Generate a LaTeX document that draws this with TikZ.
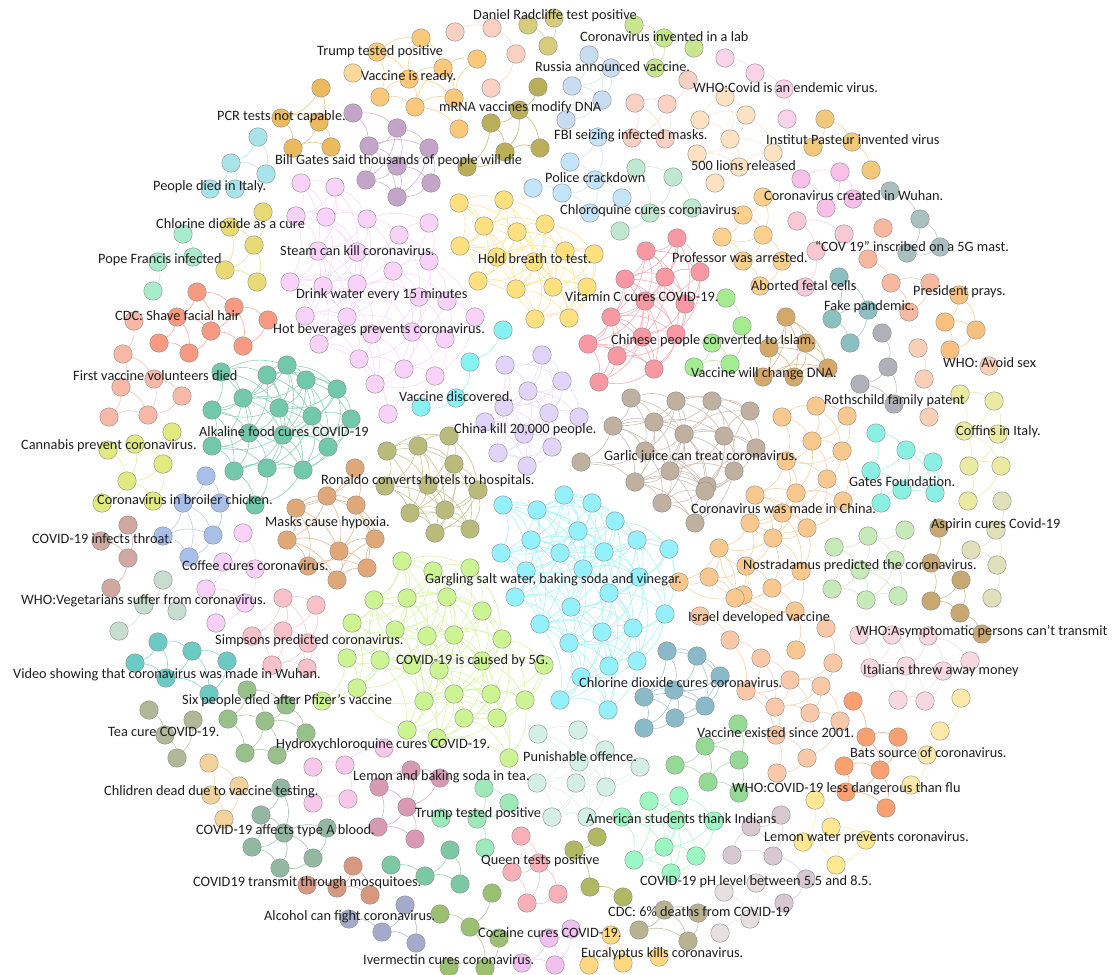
\documentclass[tikz,border=0pt]{standalone}
\usepackage{fontspec}
\setmainfont{Carlito}
\pgfdeclarelayer{edgelayer}
\pgfsetlayers{edgelayer,main}
\tikzset{
  dot/.style={circle,minimum size=18.5pt,inner sep=0pt,draw=black!45,line width=0.4pt},
  lbl/.style={anchor=west,inner sep=0pt,font=\fontsize{14.3}{16}\selectfont,text=black!88},
  lnk/.style={line width=0.6pt}
}
\newcommand\mkcluster[4]{%
  \foreach \p [count=\i] in {#4}{\node[dot,fill=#2] (#1-\i) at \p {}; \xdef\clcount{\i}}%
  \begin{pgfonlayer}{edgelayer}
  \foreach \i in {1,...,\clcount}{\foreach \j in {\i,...,\clcount}{%
    \ifnum\j>\i\relax
      \pgfpointdiff{\pgfpointanchor{#1-\i}{center}}{\pgfpointanchor{#1-\j}{center}}%
      \pgfgetlastxy\cdx\cdy
      \pgfmathtruncatemacro\isclose{veclen(\cdx,\cdy)<#3}%
      \ifnum\isclose=1\relax \draw[lnk,draw=#2!80!white] (#1-\i) to[bend left=20] (#1-\j);\fi
    \fi}}
  \end{pgfonlayer}}
\definecolor{pcr}{HTML}{EBB95E}
\definecolor{italy}{HTML}{A8E4EA}
\definecolor{purp}{HTML}{C4A4C8}
\definecolor{pinkL}{HTML}{F9D2FA}
\definecolor{yelC}{HTML}{E8DA74}
\definecolor{mintP}{HTML}{A8ECCC}
\definecolor{vready}{HTML}{F9C878}
\definecolor{vpale}{HTML}{FCD898}
\definecolor{peachTop}{HTML}{FAD0C2}
\definecolor{oliveTop}{HTML}{D6CC7A}
\definecolor{lgreenTop}{HTML}{C8E690}
\definecolor{lblue}{HTML}{C8DCF2}
\definecolor{salmonTop}{HTML}{FAD0C4}
\definecolor{pinkTop}{HTML}{FAD2EA}
\definecolor{lions}{HTML}{FCE2C2}
\definecolor{pasteur}{HTML}{F2C87A}
\definecolor{profGold}{HTML}{FBD08C}
\definecolor{wuhanPink}{HTML}{F8C0E8}
\definecolor{mast}{HTML}{A8C0C0}
\definecolor{pinkLD}{HTML}{F8C8D4}
\definecolor{prays}{HTML}{F8B8A0}
\definecolor{fake}{HTML}{8CC0C0}
\definecolor{avoid}{HTML}{F8C07E}
\definecolor{peachR}{HTML}{F8D0B8}
\definecolor{roth}{HTML}{B0B0BA}
\definecolor{dnaC}{HTML}{D4A868}
\definecolor{lgreen}{HTML}{A4EC90}
\definecolor{redC}{HTML}{F898A2}
\definecolor{hold}{HTML}{FFE07E}
\definecolor{sky}{HTML}{C4E4FA}
\definecolor{chloro}{HTML}{C0E8D0}
\definecolor{mrna}{HTML}{BAAE58}
\definecolor{cdc}{HTML}{F89A82}
\definecolor{firstv}{HTML}{F8B8A8}
\definecolor{alk}{HTML}{72C8AA}
\definecolor{cann}{HTML}{E0EA80}
\definecolor{broiler}{HTML}{A8C0E8}
\definecolor{throat}{HTML}{D0A8A0}
\definecolor{coffee}{HTML}{F8D0F8}
\definecolor{veg}{HTML}{C8DCD0}
\definecolor{masks}{HTML}{E0A878}
\definecolor{simp}{HTML}{F8C0C8}
\definecolor{video}{HTML}{6CCAC4}
\definecolor{six}{HTML}{98C08A}
\definecolor{tea}{HTML}{B0B898}
\definecolor{child}{HTML}{F2D29A}
\definecolor{typeA}{HTML}{92B8A2}
\definecolor{hydro}{HTML}{F8C8EA}
\definecolor{lemonbs}{HTML}{D89AB2}
\definecolor{mosq}{HTML}{D89880}
\definecolor{alcohol}{HTML}{A4AACA}
\definecolor{tealG}{HTML}{7CC8A2}
\definecolor{cocaine}{HTML}{9CC072}
\definecolor{pinkV}{HTML}{F0C0F0}
\definecolor{euca}{HTML}{FFD880}
\definecolor{cdcsix}{HTML}{B8B290}
\definecolor{oyg}{HTML}{B0B862}
\definecolor{queen}{HTML}{F8B0B8}
\definecolor{trumpB}{HTML}{9CEABA}
\definecolor{punish}{HTML}{D4F0E6}
\definecolor{amer}{HTML}{9CF8C2}
\definecolor{greenC}{HTML}{94DA94}
\definecolor{lilac}{HTML}{D8C8D0}
\definecolor{lgray}{HTML}{E8E0E0}
\definecolor{lemonW}{HTML}{FFE890}
\definecolor{bats}{HTML}{F8A070}
\definecolor{ypale}{HTML}{FCE8A8}
\definecolor{peachB}{HTML}{F8C8A8}
\definecolor{chinaO}{HTML}{F8C88E}
\definecolor{taupe}{HTML}{C0B0A0}
\definecolor{cyanC}{HTML}{94F0FA}
\definecolor{vdisc}{HTML}{86F2F2}
\definecolor{lav}{HTML}{E2D4F8}
\definecolor{ronaldo}{HTML}{BABA7A}
\definecolor{fiveg}{HTML}{CCF492}
\definecolor{steel}{HTML}{8ABACA}
\definecolor{gates}{HTML}{8AF0E2}
\definecolor{coffins}{HTML}{EAEAA2}
\definecolor{aspirin}{HTML}{E0E0BA}
\definecolor{nostra}{HTML}{C8EAB8}
\definecolor{tanC}{HTML}{C8A870}
\definecolor{ital}{HTML}{F8D8E0}
\begin{document}
\begin{tikzpicture}[x=1pt,y=-1pt]
\begin{pgfonlayer}{edgelayer}
\fill[white] (0,0) rectangle (1115,974);
\end{pgfonlayer}
\useasboundingbox (0,0) rectangle (1115,974);
% ---------- clusters ----------
\mkcluster{pcr}{pcr}{55}{(321,88),(281,118),(319,122),(293,148),(331,147)}
\mkcluster{italy}{italy}{50}{(258,137),(231,163),(266,174),(210,189),(235,189)}
\mkcluster{purp}{purp}{62}{(353,113),(397,128),(369,146),(429,148),(397,166),(366,180),(431,183),(397,197)}
\mkcluster{pinkL}{pinkL}{74}{(301,183),(335,187),(296,216),(326,217),(367,219),(399,235),(429,223),(318,251),(357,252),(393,271),(429,261),(290,282),(323,286),(357,284),(419,297),(447,301),(305,316),(347,317),(475,317),(319,344),(372,334),(412,332),(445,339),(359,359),(404,369),(435,376),(375,384),(388,414)}
\mkcluster{yelC}{yelC}{50}{(263,212),(230,227),(254,245),(225,270),(257,282)}
\mkcluster{mintP}{mintP}{45}{(183,234),(158,262),(193,257),(153,291)}
\mkcluster{vready}{vready}{52}{(377,52),(380,97),(409,79),(415,107),(421,38),(443,68),(454,98),(459,129),(477,59)}
\mkcluster{vpale}{vpale}{40}{(353,73)}
\mkcluster{peachTop}{peachTop}{55}{(455,32),(492,28),(516,54),(491,88)}
\mkcluster{oliveTop}{oliveTop}{50}{(528,25),(554,18),(548,46)}
\mkcluster{lgreenTop}{lgreenTop}{50}{(634,25),(664,38),(694,48),(655,68)}
\mkcluster{lblue}{lblue}{50}{(589,55),(611,68),(572,86),(602,100),(566,120)}
\mkcluster{salmonTop}{salmonTop}{55}{(688,80),(635,103),(667,104),(632,138),(665,139)}
\mkcluster{pinkTop}{pinkTop}{50}{(725,58),(755,73),(784,89),(787,119)}
\mkcluster{lions}{lions}{48}{(700,120),(725,97),(746,115),(730,139),(697,154),(739,167),(773,153),(715,183)}
\mkcluster{pasteur}{pasteur}{50}{(825,119),(813,147),(852,142),(871,170)}
\mkcluster{profGold}{profGold}{45}{(763,197),(743,215),(763,235),(722,237),(743,261),(782,261),(760,286)}
\mkcluster{wuhanPink}{wuhanPink}{45}{(801,179),(840,172),(826,208),(853,199)}
\mkcluster{mast}{mast}{45}{(890,191),(920,219),(940,247),(907,253)}
\mkcluster{pinkLD}{pinkLD}{50}{(797,221),(844,234),(816,251),(805,287)}
\mkcluster{prays}{prays}{45}{(883,228),(868,259),(891,283),(930,283),(909,312)}
\mkcluster{fake}{fake}{50}{(839,277),(832,319),(868,310),(850,343)}
\mkcluster{avoid}{avoid}{45}{(959,295),(945,322),(976,330),(950,350)}
\mkcluster{peachR}{peachR}{45}{(918,348),(924,379),(989,366),(929,417)}
\mkcluster{roth}{roth}{45}{(882,333),(888,367),(860,384),(894,404)}
\mkcluster{dnaC}{dnaC}{70}{(786,317),(769,348),(806,343),(763,377),(794,377),(828,368)}
\mkcluster{lgreen}{lgreen}{45}{(726,298),(742,326),(712,343),(694,367),(730,364)}
\mkcluster{redC}{redC}{75}{(677,238),(646,251),(625,279),(665,277),(700,272),(645,301),(685,304),(611,317),(642,337),(676,334),(588,344),(617,356),(654,369),(599,382)}
\mkcluster{hold}{hold}{72}{(459,203),(504,200),(484,226),(517,232),(545,224),(460,246),(497,257),(534,262),(565,251),(594,254),(478,281),(516,289),(553,287),(587,287),(535,319),(569,318)}
\mkcluster{sky}{sky}{45}{(598,137),(570,162),(595,180),(533,188),(562,193),(622,198),(590,213)}
\mkcluster{chloro}{chloro}{50}{(636,168),(673,177),(692,208),(650,213),(620,231)}
\mkcluster{mrna}{mrna}{55}{(538,87),(519,110),(491,123),(505,152),(540,148),(467,167)}
\mkcluster{cdc}{cdc}{50}{(197,292),(234,307),(268,320),(177,317),(211,331),(159,343),(189,353),(243,346)}
\mkcluster{firstv}{firstv}{48}{(134,321),(123,354),(121,387),(154,379),(182,396),(109,417),(148,415)}
\mkcluster{alk}{alk}{72}{(221,372),(267,375),(287,365),(306,380),(337,389),(243,398),(279,408),(312,416),(351,419),(212,410),(249,433),(283,435),(328,447),(212,446),(234,471),(267,468),(303,470),(255,505)}
\mkcluster{cann}{cann}{45}{(172,432),(135,444),(108,450),(163,464),(127,481),(102,503),(153,501)}
\mkcluster{broiler}{broiler}{55}{(206,476),(183,503),(220,503),(163,536),(213,535),(189,557)}
\mkcluster{throat}{throat}{40}{(128,525),(101,541),(128,558),(111,588)}
\mkcluster{coffee}{coffee}{45}{(243,533),(223,562),(255,569),(206,589),(245,603),(216,623)}
\mkcluster{veg}{veg}{55}{(163,580),(144,605),(177,611),(119,631)}
\mkcluster{masks}{masks}{72}{(355,468),(296,508),(327,496),(356,505),(287,540),(339,551),(308,566),(337,580),(367,568),(375,539)}
\mkcluster{simp}{simp}{55}{(283,598),(316,605),(252,636),(283,631),(308,643),(272,665),(307,668)}
\mkcluster{video}{video}{55}{(158,642),(192,651),(227,661),(135,663),(166,678),(209,694)}
\mkcluster{six}{six}{50}{(247,690),(286,705),(228,719),(265,721),(306,733),(245,753),(277,755)}
\mkcluster{tea}{tea}{45}{(149,710),(193,720),(165,735),(177,758)}
\mkcluster{child}{child}{45}{(209,763),(239,786),(211,795),(224,819)}
\mkcluster{typeA}{typeA}{55}{(281,788),(261,815),(284,833),(327,828),(252,847),(313,858),(280,868)}
\mkcluster{hydro}{hydro}{45}{(313,767),(345,765),(313,803),(348,799),(384,748)}
\mkcluster{lemonbs}{lemonbs}{45}{(379,787),(411,770),(440,778),(407,807),(378,827),(415,839)}
\mkcluster{mosq}{mosq}{45}{(353,866),(307,885),(337,888),(370,895)}
\mkcluster{alcohol}{alcohol}{50}{(349,919),(405,905),(382,932),(416,943)}
\mkcluster{tealG}{tealG}{45}{(450,850),(391,865),(425,876),(460,884)}
\mkcluster{cocaine}{cocaine}{45}{(492,893),(440,914),(470,927),(499,938),(449,967),(485,968)}
\mkcluster{pinkV}{pinkV}{40}{(571,929),(549,938),(522,963),(555,965)}
\mkcluster{euca}{euca}{45}{(611,935),(589,965),(623,963),(659,957)}
\mkcluster{cdcsix}{cdcsix}{55}{(664,910),(698,913),(639,930),(688,941)}
\mkcluster{oyg}{oyg}{50}{(597,837),(574,850),(590,887),(623,897)}
\mkcluster{queen}{queen}{50}{(521,836),(539,863),(512,872),(558,894),(527,903)}
\mkcluster{trumpB}{trumpB}{45}{(484,788),(509,803),(441,818),(477,819),(485,848)}
\mkcluster{punish}{punish}{68}{(538,734),(578,730),(605,750),(579,762),(640,767),(537,783),(576,783),(606,787),(552,817),(587,817)}
\mkcluster{amer}{amer}{62}{(649,801),(679,796),(676,820),(714,821),(622,817),(664,847),(696,856),(634,860),(671,873)}
\mkcluster{greenC}{greenC}{50}{(738,724),(705,746),(675,765),(708,782),(739,760),(739,793)}
\mkcluster{lilac}{lilac}{45}{(732,855),(781,815),(751,827),(773,856),(806,879),(784,903)}
\mkcluster{lgray}{lgray}{45}{(724,892),(720,933),(756,883),(750,919)}
\mkcluster{lemonW}{lemonW}{55}{(815,800),(831,827),(803,842),(866,840),(836,865)}
\mkcluster{bats}{bats}{50}{(853,701),(866,737),(898,737),(844,766),(880,770),(846,792),(886,808)}
\mkcluster{ypale}{ypale}{40}{(961,698),(940,731),(927,755),(911,785)}
\mkcluster{peachB}{peachB}{55}{(700,616),(730,640),(826,628),(761,658),(833,663),(790,680),(821,686),(746,691),(775,707),(810,713),(840,721),(776,735),(807,758),(777,773)}
\mkcluster{chinaO}{chinaO}{62}{(782,417),(816,406),(847,416),(812,441),(842,451),(786,461),(827,479),(755,495),(796,493),(843,501),(782,513),(807,528),(773,538),(750,523),(746,566),(801,571),(772,588),(795,611),(743,595),(796,650),(719,548),(709,577),(735,598),(679,582)}
\mkcluster{taupe}{taupe}{75}{(631,398),(676,401),(712,401),(613,426),(654,422),(684,434),(724,436),(645,451),(581,462),(670,471),(734,471),(635,482),(707,486),(750,411),(756,448),(662,503),(695,523),(705,491)}
\mkcluster{cyanC}{cyanC}{85}{(564,495),(503,505),(537,510),(592,503),(615,521),(578,531),(531,540),(637,540),(501,553),(560,553),(604,552),(669,549),(526,571),(583,569),(639,577),(515,597),(609,593),(571,607),(540,624),(665,614),(602,632),(633,628),(569,643),(609,666),(637,661),(581,677),(560,700),(608,710)}
\mkcluster{vdisc}{vdisc}{50}{(503,330),(470,362),(456,398),(421,407)}
\mkcluster{lav}{lav}{65}{(542,355),(505,365),(562,381),(528,391),(504,407),(549,413),(579,417),(485,422),(524,434),(552,447),(498,453),(527,466)}
\mkcluster{ronaldo}{ronaldo}{72}{(387,451),(418,446),(449,436),(454,464),(385,486),(428,485),(478,490),(410,513),(445,510),(435,533),(470,529)}
\mkcluster{fiveg}{fiveg}{80}{(402,561),(433,571),(470,568),(407,598),(447,597),(482,611),(395,630),(427,636),(454,635),(502,639),(380,660),(412,665),(439,670),(482,661),(544,665),(424,701),(454,694),(491,694),(525,700),(464,718),(497,718),(407,730),(374,600),(347,658),(352,623),(357,688),(322,701),(437,738),(509,758)}
\mkcluster{steel}{steel}{62}{(667,651),(697,656),(720,676),(644,697),(674,690),(705,706),(675,718),(644,728)}
\mkcluster{gates}{gates}{55}{(876,433),(906,450),(933,462),(871,471),(881,503),(902,490),(935,493)}
\mkcluster{coffins}{coffins}{55}{(960,394),(994,401),(964,431),(998,434),(969,466),(1001,466),(968,501)}
\mkcluster{aspirin}{aspirin}{45}{(1002,501),(996,530),(971,550),(997,565),(992,598)}
\mkcluster{nostra}{nostra}{58}{(905,530),(868,536),(834,547),(895,560),(860,570),(832,589),(866,600),(898,596)}
\mkcluster{tanC}{tanC}{50}{(939,528),(931,563),(961,580),(931,601),(960,613),(982,634)}
\mkcluster{ital}{ital}{55}{(859,635),(892,635),(928,636),(870,668),(906,666),(943,671),(970,661),(898,700),(925,701)}
% ---------- labels ----------
\node[lbl] (t1) at (473,16) {Daniel Radcliffe test positive};
\node[lbl] (t2) at (580,37) {Coronavirus invented in a lab};
\node[lbl] (t3) at (317,52) {Trump tested positive};
\node[lbl] (t4) at (535,67) {Russia announced vaccine.};
\node[lbl] (t5) at (361,77) {Vaccine is ready.};
\node[lbl] (t6) at (693,88) {WHO:Covid is an endemic virus.};
\node[lbl] (t7) at (439,108) {mRNA vaccines modify DNA};
\node[lbl] (t8) at (217,117) {PCR tests not capable.};
\node[lbl] (t9) at (554,136) {FBI seizing infected masks.};
\node[lbl] (t10) at (766,140) {Institut Pasteur invented virus};
\node[lbl] (t11) at (275,161) {Bill Gates said thousands of people will die};
\node[lbl] (t12) at (691,166) {500 lions released};
\node[lbl] (t13) at (545,178) {Police crackdown};
\node[lbl] (t14) at (153,187) {People died in Italy.};
\node[lbl] (t15) at (764,196) {Coronavirus created in Wuhan.};
\node[lbl] (t16) at (560,211) {Chloroquine cures coronavirus.};
\node[lbl] (t17) at (156,224) {Chlorine dioxide as a cure};
\node[lbl] (t18) at (815,246) {“COV 19” inscribed on a 5G mast.};
\node[lbl] (t19) at (280,251) {Steam can kill coronavirus.};
\node[lbl] (t20) at (478,259) {Hold breath to test.};
\node[lbl] (t21) at (672,258) {Professor was arrested.};
\node[lbl] (t22) at (98,260) {Pope Francis infected};
\node[lbl] (t23) at (751,286) {Aborted fetal cells};
\node[lbl] (t24) at (913,292) {President prays.};
\node[lbl] (t25) at (296,295) {Drink water every 15 minutes};
\node[lbl] (t26) at (565,297) {Vitamin C cures COVID-19.};
\node[lbl] (t27) at (824,307) {Fake pandemic.};
\node[lbl] (t28) at (115,316) {CDC: Shave facial hair};
\node[lbl] (t29) at (273,330) {Hot beverages prevents coronavirus.};
\node[lbl] (t30) at (611,341) {Chinese people converted to Islam.};
\node[lbl] (t31) at (943,363) {WHO: Avoid sex};
\node[lbl] (t32) at (691,374) {Vaccine will change DNA.};
\node[lbl] (t33) at (73,376) {First vaccine volunteers died};
\node[lbl] (t34) at (399,397) {Vaccine discovered.};
\node[lbl] (t35) at (824,401) {Rothschild family patent};
\node[lbl] (t36) at (454,430) {China kill 20,000 people.};
\node[lbl] (t37) at (199,432) {Alkaline food cures COVID-19};
\node[lbl] (t38) at (956,432) {Coffins in Italy.};
\node[lbl] (t39) at (21,446) {Cannabis prevent coronavirus.};
\node[lbl] (t40) at (604,457) {Garlic juice can treat coronavirus.};
\node[lbl] (t41) at (321,481) {Ronaldo converts hotels to hospitals.};
\node[lbl] (t42) at (849,482) {Gates Foundation.};
\node[lbl] (t43) at (97,500) {Coronavirus in broiler chicken.};
\node[lbl] (t44) at (691,509) {Coronavirus was made in China.};
\node[lbl] (t45) at (265,523) {Masks cause hypoxia.};
\node[lbl] (t46) at (931,525) {Aspirin cures Covid-19};
\node[lbl] (t47) at (32,539) {COVID-19 infects throat.};
\node[lbl] (t48) at (182,566) {Coffee cures coronavirus.};
\node[lbl] (t49) at (743,566) {Nostradamus predicted the coronavirus.};
\node[lbl] (t50) at (425,580) {Gargling salt water, baking soda and vinegar.};
\node[lbl] (t51) at (21,601) {WHO:Vegetarians suffer from coronavirus.};
\node[lbl] (t52) at (688,618) {Israel developed vaccine};
\node[lbl] (t53) at (856,632) {WHO:Asymptomatic persons can’t transmit};
\node[lbl] (t54) at (215,641) {Simpsons predicted coronavirus.};
\node[lbl] (t55) at (396,661) {COVID-19 is caused by 5G.};
\node[lbl] (t56) at (863,671) {Italians threw away money};
\node[lbl] (t57) at (13,675) {Video showing that coronavirus was made in Wuhan.};
\node[lbl] (t58) at (579,683) {Chlorine dioxide cures coronavirus.};
\node[lbl] (t59) at (182,701) {Six people died after Pfizer’s vaccine};
\node[lbl] (t60) at (697,733) {Vaccine existed since 2001.};
\node[lbl] (t61) at (108,732) {Tea cure COVID-19.};
\node[lbl] (t62) at (276,745) {Hydroxychloroquine cures COVID-19.};
\node[lbl] (t63) at (850,753) {Bats source of coronavirus.};
\node[lbl] (t64) at (523,757) {Punishable offence.};
\node[lbl] (t65) at (353,777) {Lemon and baking soda in tea.};
\node[lbl] (t66) at (732,789) {WHO:COVID-19 less dangerous than flu};
\node[lbl] (t67) at (104,792) {Chlidren dead due to vaccine testing.};
\node[lbl] (t68) at (415,814) {Trump tested positive};
\node[lbl] (t69) at (586,819) {American students thank Indians};
\node[lbl] (t70) at (196,831) {COVID-19 affects type A blood.};
\node[lbl] (t71) at (764,838) {Lemon water prevents coronavirus.};
\node[lbl] (t72) at (481,861) {Queen tests positive};
\node[lbl] (t73) at (640,882) {COVID-19 pH level between 5.5 and 8.5.};
\node[lbl] (t74) at (193,883) {COVID19 transmit through mosquitoes.};
\node[lbl] (t75) at (608,912) {CDC: 6\% deaths from COVID-19};
\node[lbl] (t76) at (264,917) {Alcohol can fight coronavirus.};
\node[lbl] (t77) at (478,933) {Cocaine cures COVID-19.};
\node[lbl] (t78) at (363,960) {Ivermectin cures coronavirus.};
\node[lbl] (t79) at (581,954) {Eucalyptus kills coronavirus.};
\end{tikzpicture}
\end{document}
